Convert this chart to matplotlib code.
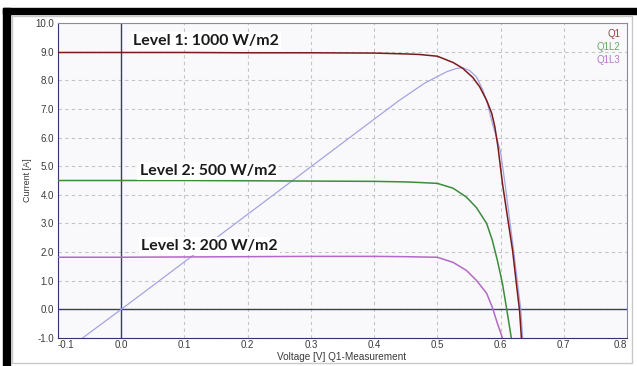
import matplotlib.pyplot as plt
from matplotlib.patches import Rectangle

# I-V curves
q1_v = [-0.1, 0.0, 0.1, 0.2, 0.3, 0.4, 0.45, 0.472, 0.5, 0.525, 0.54, 0.556, 0.567,
        0.578, 0.586, 0.591, 0.596, 0.603, 0.611, 0.619, 0.625, 0.63, 0.633]
q1_i = [8.97, 8.97, 8.97, 8.96, 8.96, 8.95, 8.92, 8.9, 8.84, 8.62, 8.42, 8.1, 7.77,
        7.3, 6.85, 6.37, 5.66, 4.4, 3.22, 2.06, 0.9, -0.03, -1.0]

q1l2_v = [-0.1, 0.0, 0.1, 0.2, 0.3, 0.4, 0.45, 0.472, 0.5, 0.525, 0.546, 0.562,
          0.578, 0.587, 0.595, 0.603, 0.61, 0.617]
q1l2_i = [4.5, 4.5, 4.5, 4.49, 4.48, 4.47, 4.45, 4.43, 4.4, 4.23, 3.92, 3.55,
          3.0, 2.41, 1.71, 0.9, -0.03, -1.0]

q1l3_v = [-0.1, 0.0, 0.1, 0.2, 0.3, 0.4, 0.45, 0.472, 0.5, 0.525, 0.546, 0.562,
          0.578, 0.587, 0.595, 0.603]
q1l3_i = [1.82, 1.82, 1.83, 1.84, 1.85, 1.85, 1.84, 1.83, 1.82, 1.64, 1.36, 1.01,
          0.56, 0.07, -0.49, -1.0]

# light blue trace (power-like curve)
pw_v = [-0.063, 0.0, 0.1, 0.2, 0.3, 0.4, 0.44, 0.46, 0.48, 0.5, 0.515, 0.53, 0.54,
        0.551, 0.562, 0.572, 0.58, 0.587, 0.595, 0.6, 0.607, 0.614, 0.621, 0.627,
        0.632, 0.635]
pw_i = [-1.03, 0.0, 1.66, 3.32, 4.98, 6.64, 7.3, 7.6, 7.9, 8.13, 8.3, 8.41, 8.44,
        8.34, 8.11, 7.66, 7.13, 6.5, 5.9, 5.5, 4.4, 3.2, 2.0, 0.9, 0.0, -1.0]

series = [("Q1", q1_v, q1_i, "#7a1a1a", "#a04040"),
          ("Q1L2", q1l2_v, q1l2_i, "#3c8c3c", "#66aa66"),
          ("Q1L3", q1l3_v, q1l3_i, "#b468c8", "#bb77cc")]

levels = ["Level 1: 1000 W/m2", "Level 2: 500 W/m2", "Level 3: 200 W/m2"]
level_pos = [(0.018, 9.37), (0.029, 4.83), (0.031, 2.2)]

x_ticks = [-0.1, 0.0, 0.1, 0.2, 0.3, 0.4, 0.5, 0.6, 0.7, 0.8]
y_ticks = [-1, 0, 1, 2, 3, 4, 5, 6, 7, 8, 9, 10]

W, H = 637, 366
fig = plt.figure(figsize=(W / 100, H / 100), dpi=100)
ax = fig.add_axes([58 / W, 1 - 338 / H, (627 - 58) / W, (338 - 23) / H])
ax.set_facecolor("#f9f9fb")

# screenshot frame
fig.add_artist(Rectangle((3 / W, 0), 7 / W, 1 - 8 / H, transform=fig.transFigure,
                         color="black", zorder=0))
fig.add_artist(Rectangle((3 / W, 1 - 14 / H), 1, 6 / H, transform=fig.transFigure,
                         color="black", zorder=0))
fig.add_artist(Rectangle((12 / W, 1 - 363 / H), 620 / W, 347 / H, transform=fig.transFigure,
                         fill=False, edgecolor="#c8c8c8", lw=1, zorder=0))

ax.grid(True, color="#c4c4c4", linestyle=(0, (3, 3)), lw=0.8)
ax.set_axisbelow(True)
ax.axvline(0, color="#3a3a78", lw=1, zorder=1)
ax.axhline(0, color="#3a3a78", lw=1, zorder=1)

ax.plot(pw_v, pw_i, color="#a4a4e4", lw=0.9, zorder=2)
for name, v, i, c, lc in series:
    ax.plot(v, i, color=c, lw=1.1, zorder=3)

for k, (name, v, i, c, lc) in enumerate(series):
    ax.text(0.988, 0.965 - k * 0.041, name, transform=ax.transAxes, ha="right",
            va="center", fontsize=7, color=lc, family="Liberation Sans")

for txt, (x, y) in zip(levels, level_pos):
    ax.text(x, y, txt, ha="left", va="center", fontsize=11.4, fontweight="bold",
            family="Lato", color="#1a1a1a", zorder=4,
            bbox=dict(facecolor="white", edgecolor="none", pad=1.5))

ax.set_xlim(-0.1, 0.8)
ax.set_ylim(-1, 10)
ax.set_xticks(x_ticks)
ax.set_xticklabels([f"{t:.1f}" for t in x_ticks])
ax.set_yticks(y_ticks)
ax.set_yticklabels([f"{t:.1f}" for t in y_ticks])
xl = ax.get_xticklabels()
xl[0].set_ha("left")
xl[-1].set_ha("right")
ax.tick_params(length=0, labelsize=7, labelcolor="#3a3a3a")
ax.tick_params(axis="x", pad=1.5)
ax.tick_params(axis="y", pad=3)
for lab in ax.get_xticklabels() + ax.get_yticklabels():
    lab.set_family("Liberation Sans")

for s in ["left", "bottom"]:
    ax.spines[s].set_color("#34346a")
for s in ["top", "right"]:
    ax.spines[s].set_color("#8a8aa0")

fig.text(28 / W, 1 - 180 / H, "Current [A]", rotation=90, ha="center", va="center",
         fontsize=6.5, color="#3a3a3a", family="Liberation Sans")
fig.text(342 / W, 1 - 356.5 / H, "Voltage [V] Q1-Measurement", ha="center", va="center",
         fontsize=7.2, color="#3a3a3a", family="Liberation Sans")

fig.savefig("out.png", dpi=100)
